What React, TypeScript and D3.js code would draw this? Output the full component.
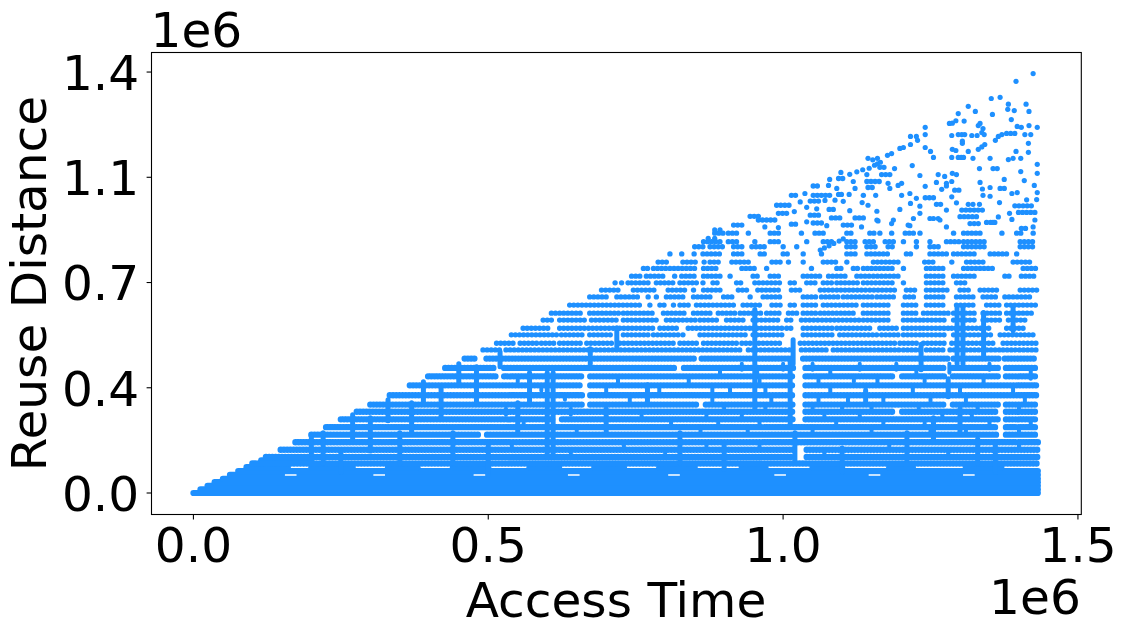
import React from "react";
import * as d3 from "d3";

// All values in units of 1e6 (the chart's own offset text).
const xTicks = [0, 0.5, 1.0, 1.5];
const xTickLabels = ["0.0", "0.5", "1.0", "1.5"];
const yTicks = [0, 0.35, 0.7, 1.05, 1.4];
const yTickLabels = ["0.0", "0.4", "0.7", "1.1", "1.4"];

// [reuse distance, start, end, start, end, ...]: stretches of access time where points overlap
const baseRuns: number[][] = [
  [0, 0, 1.432], [0.012, 0.012, 1.432], [0.024, 0.024, 1.432], [0.036, 0.036, 1.432],
  [0.047, 0.05, 1.432],
  [0.06, 0.062, 0.15, 0.18, 0.3, 0.33, 0.47, 0.5, 0.63, 0.66, 0.8, 0.83, 0.98, 1.01, 1.14, 1.17, 1.3, 1.33, 1.432],
  [0.073, 0.076, 1.432],
  [0.086, 0.09, 0.16, 0.2, 0.27, 0.33, 0.38, 0.44, 0.5, 0.57, 0.62, 0.68, 0.73, 0.79, 0.85, 0.93, 0.97, 1.05, 1.1, 1.18, 1.22, 1.31, 1.37],
  [0.109, 0.115, 0.2],
];
const denseRuns: number[][] = [
  [0.098, 0.1, 1.432],
  [0.12, 0.123, 1.018, 1.04, 1.432],
  [0.144, 0.148, 1.018, 1.04, 1.432],
  [0.169, 0.173, 1.432],
  [0.194, 0.2, 0.484, 0.498, 1.364, 1.378, 1.432],
  [0.219, 0.225, 1.364, 1.378, 1.432],
  [0.245, 0.25, 0.61, 0.625, 1.02, 1.038, 1.364, 1.378, 1.432],
  [0.27, 0.277, 1.02, 1.038, 1.188, 1.202, 1.364, 1.378, 1.432],
  [0.294, 0.3, 0.659, 0.673, 0.855, 0.869, 1.02, 1.038, 1.274, 1.288, 1.364, 1.378, 1.432],
  [0.325, 0.333, 0.659, 0.673, 1.02, 1.038, 1.432],
  [0.358, 0.367, 0.659, 0.673, 1.02, 1.038, 1.432],
  [0.388, 0.398, 0.513, 0.527, 0.659, 0.673, 1.02, 1.038, 1.188, 1.202, 1.274, 1.288, 1.364, 1.378, 1.432],
  [0.416, 0.427, 0.513, 0.527, 0.818, 0.832, 1.02, 1.038, 1.274, 1.288, 1.364, 1.378, 1.432],
  [0.447, 0.46, 0.48, 0.497, 0.667, 0.68, 0.85, 0.862, 1.017, 1.034, 1.283, 1.289, 1.368, 1.376, 1.43],
];
const sparseRuns: number[][] = [
  [0.476, 0.491, 0.52, 0.53, 0.932, 0.941, 1.017, 1.031, 1.079, 1.085, 1.198, 1.204, 1.238, 1.243, 1.277, 1.283, 1.368, 1.373, 1.43],
  [0.498, 0.514, 0.548, 0.554, 0.582, 0.59, 0.613, 0.621, 0.661, 0.667, 0.712, 0.723, 0.82, 0.825, 0.859, 0.865, 0.921, 0.93, 0.947, 0.952, 1.0, 1.029, 1.193, 1.198, 1.232, 1.238, 1.277, 1.286, 1.356, 1.373, 1.43],
  [0.526, 0.539, 0.618, 0.624, 0.661, 0.672, 0.712, 0.729, 0.774, 0.78, 0.825, 0.83, 0.83, 0.859, 0.938, 0.949, 1.0, 1.034, 1.085, 1.096, 1.159, 1.167, 1.198, 1.204, 1.232, 1.238, 1.277, 1.289, 1.356, 1.368, 1.43],
  [0.548, 0.559, 0.602, 0.621, 0.664, 0.67, 0.712, 0.723, 0.78, 0.791, 0.819, 0.839, 0.944, 0.949, 1.0, 1.006, 1.017, 1.034, 1.085, 1.091, 1.153, 1.164, 1.193, 1.204, 1.232, 1.238, 1.283, 1.286, 1.351, 1.379, 1.407],
  [0.575, 0.593, 0.61, 0.621, 0.664, 0.675, 0.718, 0.729, 0.791, 0.802, 0.853, 0.859, 0.893, 0.904, 0.938, 0.949, 0.995, 1.006, 1.017, 1.031, 1.063, 1.066, 1.13, 1.136, 1.181, 1.204, 1.232, 1.238, 1.277, 1.289, 1.328, 1.339, 1.373, 1.382, 1.416],
  [0.598, 0.607, 0.619, 0.621, 0.661, 0.672, 0.723, 0.729, 0.78, 0.797, 0.836, 0.848, 0.881, 0.89, 0.921, 0.927, 0.966, 0.972, 0.995, 1.009, 1.023, 1.034, 1.057, 1.063, 1.125, 1.136, 1.181, 1.204, 1.226, 1.238, 1.283, 1.289, 1.328, 1.339, 1.373, 1.379, 1.424],
  [0.625, 0.638, 0.763, 0.774, 0.774, 0.791, 0.802, 0.814, 0.814, 0.825, 0.842, 0.853, 0.916, 0.932, 0.966, 0.981, 0.995, 1.012, 1.023, 1.034, 1.057, 1.068, 1.13, 1.136, 1.181, 1.204, 1.226, 1.243, 1.277, 1.294, 1.328, 1.345, 1.368, 1.379, 1.43],
  [0.652, 0.672, 0.706, 0.718, 0.757, 0.771, 0.771, 0.785, 0.785, 0.802, 0.83, 0.848, 0.879, 0.899, 0.918, 0.944, 0.944, 0.966, 0.995, 1.034, 1.057, 1.065, 1.096, 1.102, 1.153, 1.159, 1.193, 1.207, 1.226, 1.243, 1.277, 1.294, 1.328, 1.339, 1.362, 1.376, 1.424],
  [0.675, 0.692, 0.723, 0.746, 0.785, 0.805, 0.836, 0.848, 0.848, 0.865, 0.893, 0.924, 0.944, 0.957, 0.995, 1.014, 1.034, 1.063, 1.085, 1.091, 1.142, 1.147, 1.193, 1.209, 1.226, 1.243, 1.283, 1.3, 1.317, 1.334, 1.368, 1.402, 1.43],
  [0.699, 0.715, 0.715, 0.726, 0.726, 0.737, 0.737, 0.743, 0.774, 0.785, 0.819, 0.825, 0.853, 0.864, 0.864, 0.881, 0.893, 0.921, 0.932, 0.952, 0.997, 1.012, 1.023, 1.04, 1.057, 1.068, 1.082, 1.091, 1.13, 1.136, 1.187, 1.204, 1.204, 1.243, 1.277, 1.294, 1.311],
  [0.721, 0.743, 0.763, 0.768, 0.802, 0.816, 0.816, 0.828, 0.853, 0.865, 0.893, 0.91, 0.91, 0.949, 0.958, 0.978, 0.997, 1.034, 1.063, 1.077, 1.108, 1.125, 1.147, 1.153, 1.198, 1.243, 1.274, 1.289, 1.328, 1.376, 1.385, 1.404, 1.43],
  [0.747, 0.763, 0.774, 0.78, 0.802, 0.808, 0.853, 0.865, 0.887, 0.93, 0.955, 0.972, 0.972, 1.048, 1.048, 1.091, 1.102, 1.119, 1.13, 1.136, 1.187, 1.204, 1.204, 1.243, 1.272, 1.306, 1.356, 1.407, 1.43],
  [0.768, 0.788, 0.808, 0.83, 0.853, 0.866, 0.866, 0.876, 0.89, 0.913, 0.944, 0.981, 0.995, 1.009, 1.009, 1.034, 1.034, 1.068, 1.091, 1.108, 1.108, 1.153, 1.198, 1.24, 1.257, 1.286, 1.286, 1.311, 1.339, 1.39, 1.424],
  [0.795, 0.808, 0.808, 0.828, 0.828, 0.849, 0.849, 0.864, 0.893, 0.916, 0.932, 0.961, 0.972, 1.0, 1.012, 1.034, 1.034, 1.065, 1.065, 1.108, 1.128, 1.142, 1.181, 1.209, 1.221, 1.249, 1.277, 1.289, 1.328, 1.351, 1.379, 1.396, 1.396],
  [0.819, 0.85, 0.864, 0.876, 0.899, 0.916, 0.932, 0.947, 0.969, 1.0, 1.0, 1.023, 1.023, 1.108, 1.125, 1.142, 1.159, 1.178, 1.19, 1.226, 1.226, 1.249, 1.266, 1.306, 1.345, 1.402, 1.424],
  [0.836, 0.865, 0.899, 0.907, 0.924, 0.952, 0.952, 0.978, 0.992, 1.04, 1.04, 1.068, 1.085, 1.108, 1.125, 1.139, 1.159, 1.173, 1.187, 1.204, 1.204, 1.226, 1.226, 1.249, 1.249, 1.277, 1.3, 1.306, 1.345, 1.402, 1.424],
  [0.864, 0.884, 0.901, 0.907, 0.924, 0.941, 0.941, 0.978, 0.997, 1.031, 1.031, 1.054, 1.071, 1.108, 1.119, 1.147, 1.159, 1.164, 1.164, 1.184, 1.184, 1.207, 1.221, 1.232, 1.232, 1.289, 1.289, 1.306, 1.334, 1.371, 1.371, 1.396, 1.404, 1.424, 1.424],
  [0.99, 1.014, 1.026, 1.051, 1.079, 1.136, 1.142],
  [0.982, 1.241, 1.255],
  [0.957, 0.989, 1.014],
  [0.971, 1.046, 1.062],
  [0.96, 1.26, 1.272],
  [0.955, 1.393, 1.424],
  [0.943, 1.078, 1.091],
  [0.941, 1.303, 1.339],
  [0.933, 1.399, 1.43],
  [0.92, 0.944, 0.961],
  [0.93, 0.992, 1.006],
  [0.908, 0.958, 0.986],
  [0.924, 1.046, 1.06],
  [0.915, 1.082, 1.099, 1.122, 1.142],
  [0.919, 1.3, 1.328],
  [0.891, 0.916, 0.93, 1.102, 1.116],
  [0.894, 1.014, 1.023],
  [0.898, 1.051, 1.065],
  [0.896, 1.317, 1.334],
  [0.9, 1.345, 1.365],
  [0.88, 1.404, 1.416],
  [1.036, 1.142, 1.164],
  [1.021, 1.051, 1.062],
  [1.016, 1.144, 1.156],
  [1.013, 1.368, 1.376],
  [1.007, 1.291, 1.3],
  [1.059, 1.167, 1.181],
  [1.079, 1.356, 1.365],
  [1.083, 1.164, 1.173],
  [1.046, 1.094, 1.102],
];
// [x, y] single points at the sparse top of the cloud
const topDots: number[][] = [
  [1.424, 1.395], [1.395, 1.369], [1.353, 1.312], [1.368, 1.316], [1.382, 1.293], [1.412, 1.293], [1.314, 1.286], [1.381, 1.276], [1.392, 1.272], [1.417, 1.269],
  [1.297, 1.262], [1.326, 1.269], [1.355, 1.259], [1.387, 1.242], [1.307, 1.237], [1.282, 1.229], [1.287, 1.23], [1.293, 1.238], [1.334, 1.229], [1.331, 1.222],
  [1.397, 1.219], [1.404, 1.216], [1.417, 1.222], [1.431, 1.216], [1.241, 1.216], [1.339, 1.212], [1.337, 1.199], [1.379, 1.196], [1.386, 1.196], [1.393, 1.196],
  [1.241, 1.192], [1.216, 1.186], [1.226, 1.186], [1.228, 1.173], [1.286, 1.189], [1.297, 1.192], [1.303, 1.192], [1.308, 1.192], [1.32, 1.189], [1.329, 1.189],
  [1.341, 1.192], [1.365, 1.186], [1.371, 1.192], [1.36, 1.173], [1.41, 1.192], [1.42, 1.192], [1.416, 1.163], [1.304, 1.163], [1.304, 1.17], [1.216, 1.159],
  [1.342, 1.159], [1.337, 1.151], [1.331, 1.143], [1.241, 1.149], [1.25, 1.136], [1.255, 1.116], [1.198, 1.146], [1.204, 1.149], [1.184, 1.129], [1.177, 1.123],
  [1.287, 1.143], [1.293, 1.139], [1.314, 1.136], [1.395, 1.136], [1.416, 1.133], [1.286, 1.116], [1.297, 1.116], [1.302, 1.116], [1.306, 1.116], [1.322, 1.113],
  [1.351, 1.113], [1.382, 1.109], [1.39, 1.113], [1.403, 1.113], [1.113, 1.06], [1.125, 1.068], [1.135, 1.075], [1.146, 1.08], [1.155, 1.09], [1.16, 1.095],
  [1.165, 1.1], [1.16, 1.113], [1.144, 1.113], [1.152, 1.108], [1.189, 1.079], [1.098, 1.066], [1.219, 1.089], [1.142, 1.059],
  [1.232, 1.056], [1.263, 1.059], [1.274, 1.053], [1.287, 1.063], [1.294, 1.059], [1.333, 1.079],
  [1.403, 1.069], [1.431, 1.093], [1.431, 1.063], [1.079, 1.043], [1.119, 1.036],
  [1.178, 1.03], [1.201, 1.03], [1.195, 1.023], [1.26, 1.033], [1.277, 1.03], [1.286, 1.036], [1.334, 1.033], [1.375, 1.043], [1.409, 1.039],
  [1.077, 1.023], [1.091, 1.013], [1.122, 1.013], [1.181, 1.013], [1.241, 1.02], [1.269, 1.01], [1.277, 1.021],
  [1.338, 1.011], [1.351, 1.016], [1.426, 1.023], [1.037, 0.996],
  [1.094, 0.993], [1.099, 0.993], [1.112, 0.993], [1.157, 0.99], [1.201, 0.99],
  [1.215, 0.996], [1.226, 0.98], [1.286, 0.985], [1.339, 0.99], [1.351, 0.987], [1.388, 0.996], [1.397, 0.999], [1.431, 0.999],
  [1.413, 0.975], [1.43, 0.976], [1.029, 0.968], [1.071, 0.973], [1.088, 0.974],
  [1.102, 0.97], [1.134, 0.966], [1.216, 0.963], [1.232, 0.954], [1.294, 0.965], [1.314, 0.96], [1.322, 0.96], [1.333, 0.96],
  [1.367, 0.966], [1.04, 0.95], [1.057, 0.945], [1.113, 0.939], [1.144, 0.957],
  [1.159, 0.937], [1.198, 0.943], [1.232, 0.93], [1.249, 0.913], [1.263, 0.913], [1.277, 0.941],
  [1.365, 0.918], [1.384, 0.93], [1.019, 0.936], [1.159, 0.908],
  [1.187, 0.908], [1.212, 0.891], [1.221, 0.913], [1.266, 0.908], [1.356, 0.9], [1.388, 0.91], [1.427, 0.908],
  [0.969, 0.885], [0.992, 0.883], [1.04, 0.902], [1.074, 0.889],
  [1.133, 0.885], [1.161, 0.905], [1.184, 0.896], [1.215, 0.889], [1.255, 0.913], [1.277, 0.885],
  [1.424, 0.885], [0.884, 0.875], [0.893, 0.875], [0.873, 0.847], [0.884, 0.847],
  [1.063, 0.808], [1.07, 0.815], [1.078, 0.822], [1.086, 0.83], [1.095, 0.838], [1.102, 0.845],
];
// [x, from, to]: places where overlapping points close the gap between rows
const bridges: number[][] = [
  [0.952, 0.28, 0.61], [1.012, 0.22, 0.44], [1.02, 0.11, 0.2], [1.21, 0.11, 0.2], [1.255, 0.17, 0.25], [1.28, 0.32, 0.38],
  [1.36, 0.07, 0.17], [0.6, 0.12, 0.4], [0.61, 0.12, 0.4], [0.718, 0.48, 0.55], [0.673, 0.43, 0.48], [1.234, 0.41, 0.495],
  [1.295, 0.43, 0.62], [1.305, 0.43, 0.62], [1.34, 0.45, 0.6], [1.39, 0.54, 0.62], [1.017, 0.43, 0.51], [0.825, 0.1, 0.2],
  [0.77, 0.3, 0.36], [0.5, 0.06, 0.16], [0.35, 0.1, 0.2], [0.25, 0.07, 0.14], [0.44, 0.1, 0.2], [0.9, 0.08, 0.16],
  [1.1, 0.07, 0.15], [1.14, 0.3, 0.34], [1.3, 0.2, 0.28], [1.33, 0.1, 0.18], [0.7, 0.2, 0.28],
  [0.2, 0.13, 0.19], [0.22, 0.1, 0.2], [0.27, 0.18, 0.26], [0.3, 0.14, 0.25], [0.33, 0.24, 0.31], [0.37, 0.2, 0.3], [0.39, 0.3, 0.37],
  [0.42, 0.25, 0.35], [0.45, 0.36, 0.43], [0.48, 0.3, 0.42], [0.52, 0.42, 0.47], [0.55, 0.2, 0.3], [0.57, 0.3, 0.4],
];
// short links across a single gap between two neighbouring rows
const rowLinks: number[][] = [
  [0.93, 0.41, 0.43], [0.956, 0.39, 0.41], [1.0, 0.41, 0.43], [1.05, 0.41, 0.43], [1.08, 0.39, 0.41], [1.13, 0.41, 0.43], [1.192, 0.41, 0.43], [1.226, 0.39, 0.41], [1.282, 0.4, 0.43], [1.35, 0.41, 0.43],
  [0.893, 0.39, 0.41], [0.96, 0.36, 0.38], [1.06, 0.36, 0.38], [1.12, 0.37, 0.39], [1.16, 0.36, 0.38], [1.24, 0.37, 0.39], [1.34, 0.36, 0.38], [1.42, 0.38, 0.41],
  [0.88, 0.33, 0.35], [0.91, 0.33, 0.35], [0.97, 0.33, 0.35], [1.08, 0.33, 0.35], [1.14, 0.33, 0.35], [1.22, 0.33, 0.35], [1.3, 0.33, 0.35], [1.39, 0.33, 0.35],
  [0.88, 0.3, 0.32], [0.98, 0.3, 0.32], [1.06, 0.3, 0.32], [1.11, 0.3, 0.32], [1.17, 0.3, 0.32], [1.25, 0.3, 0.32], [1.31, 0.3, 0.32], [1.41, 0.3, 0.32],
  [0.9, 0.27, 0.29], [0.97, 0.27, 0.29], [1.05, 0.27, 0.29], [1.1, 0.27, 0.29], [1.15, 0.27, 0.29], [1.23, 0.27, 0.29], [1.33, 0.27, 0.29], [1.4, 0.27, 0.29],
  [0.87, 0.25, 0.27], [0.93, 0.25, 0.27], [1.07, 0.25, 0.27], [1.13, 0.25, 0.27], [1.27, 0.25, 0.27], [1.32, 0.25, 0.27],
  [0.89, 0.225, 0.24], [0.96, 0.225, 0.24], [1.09, 0.225, 0.24], [1.17, 0.225, 0.24], [1.24, 0.225, 0.24], [1.35, 0.225, 0.24], [1.42, 0.225, 0.24],
  [0.86, 0.2, 0.215], [0.94, 0.2, 0.215], [1.05, 0.2, 0.215], [1.15, 0.2, 0.215], [1.25, 0.2, 0.215], [1.31, 0.2, 0.215], [1.4, 0.2, 0.215],
  [0.55, 0.37, 0.38], [0.59, 0.34, 0.35], [0.63, 0.31, 0.32], [0.64, 0.26, 0.28], [0.72, 0.36, 0.38], [0.76, 0.25, 0.27], [0.79, 0.33, 0.35], [0.84, 0.36, 0.38],
  [0.53, 0.26, 0.28], [0.56, 0.23, 0.24], [0.65, 0.2, 0.215], [0.7, 0.33, 0.35], [0.74, 0.3, 0.32], [0.81, 0.23, 0.24], [0.87, 0.15, 0.16], [0.96, 0.15, 0.16],
  [1.07, 0.13, 0.14], [1.18, 0.15, 0.16], [1.28, 0.13, 0.14], [1.4, 0.15, 0.16], [0.54, 0.15, 0.16], [0.64, 0.13, 0.14], [0.73, 0.15, 0.16], [0.8, 0.13, 0.14],
];

const WIDTH = 1126;
const HEIGHT = 635;
const FRAME = { left: 151.5, right: 1081.3, top: 52.5, bottom: 514.5 };
const COLOR = "#1E90FF";
const FONT = "'DejaVu Sans'";
const FS = 48.6;

const x = d3.scaleLinear().domain([-0.0711, 1.5057]).range([FRAME.left, FRAME.right]);
const y = d3.scaleLinear().domain([-0.0715, 1.465]).range([FRAME.bottom, FRAME.top]);

function Runs({ rows, width, dash }: { rows: number[][]; width: number; dash?: string }) {
  return (
    <g stroke={COLOR} strokeWidth={width} strokeLinecap="round" fill="none" strokeDasharray={dash}>
      {rows.flatMap((r, i) =>
        d3.range(1, r.length - 1, 2).map((j) => (
          <line key={`${i}-${j}`} x1={x(r[j])} x2={x(r[j + 1])} y1={y(r[0])} y2={y(r[0])} />
        ))
      )}
    </g>
  );
}

export default function App() {
  return (
    <svg
      width={WIDTH}
      height={HEIGHT}
      viewBox={`0 0 ${WIDTH} ${HEIGHT}`}
      style={{ position: "fixed", left: 0, top: 0, background: "#fff" }}
      fontFamily={FONT}
    >
      <Runs rows={baseRuns} width={6.2} />
      <Runs rows={denseRuns} width={6.4} dash="0.1 3.1" />
      <Runs rows={sparseRuns} width={5.3} dash="0.1 4.0" />
      <g stroke={COLOR} strokeWidth={5} strokeLinecap="round">
        {bridges.map((b, i) => (
          <line key={i} x1={x(b[0])} x2={x(b[0])} y1={y(b[1])} y2={y(b[2])} />
        ))}
      </g>
      <g stroke={COLOR} strokeWidth={4} strokeLinecap="round">
        {rowLinks.map((b, i) => (
          <line key={i} x1={x(b[0])} x2={x(b[0])} y1={y(b[1])} y2={y(b[2])} />
        ))}
      </g>
      <g fill={COLOR}>
        {topDots.map((d, i) => (
          <circle key={i} cx={x(d[0])} cy={y(d[1])} r={2.6} />
        ))}
      </g>
      <rect
        x={FRAME.left}
        y={FRAME.top}
        width={FRAME.right - FRAME.left}
        height={FRAME.bottom - FRAME.top}
        fill="none"
        stroke="#000"
        strokeWidth={1.1}
      />
      {xTicks.map((t, i) => (
        <g key={t}>
          <line x1={x(t)} x2={x(t)} y1={FRAME.bottom} y2={FRAME.bottom + 4.9} stroke="#000" strokeWidth={1.1} />
          <text x={x(t)} y={562} textAnchor="middle" fontSize={FS} fill="#000">
            {xTickLabels[i]}
          </text>
        </g>
      ))}
      {yTicks.map((t, i) => (
        <g key={t}>
          <line x1={FRAME.left - 4.9} x2={FRAME.left} y1={y(t)} y2={y(t)} stroke="#000" strokeWidth={1.1} />
          <text x={FRAME.left - 12.3} y={y(t)} dy="0.365em" textAnchor="end" fontSize={FS} fill="#000">
            {yTickLabels[i]}
          </text>
        </g>
      ))}
      <text x={616} y={617} textAnchor="middle" fontSize={FS} fill="#000">Access Time</text>
      <text x={FRAME.right - 0.5} y={613.5} textAnchor="end" fontSize={FS} fill="#000">1e6</text>
      <text x={150.5} y={46.5} textAnchor="start" fontSize={FS} fill="#000">1e6</text>
      <text transform={`translate(46,283.5) rotate(-90)`} textAnchor="middle" fontSize={FS} fill="#000">Reuse Distance</text>
    </svg>
  );
}
